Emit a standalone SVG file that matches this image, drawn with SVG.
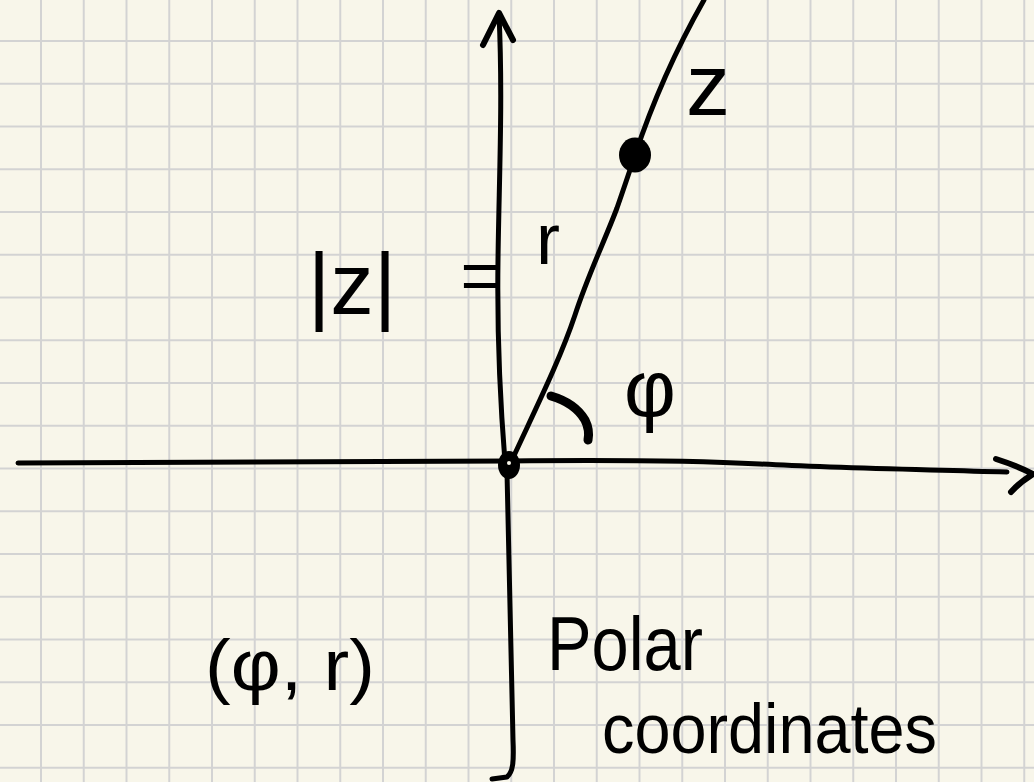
<svg xmlns="http://www.w3.org/2000/svg" width="1034" height="782" viewBox="0 0 1034 782">
  <style>
    .grid { stroke: #d3d3d3; stroke-width: 2; fill: none; }
    .ink { stroke: #000; fill: none; stroke-linecap: round; stroke-linejoin: round; }
    .axis { stroke-width: 5; }
    .lbl { font-family: "Liberation Sans", "DejaVu Sans", sans-serif; fill: #000; }
  </style>
  <rect width="1034" height="782" fill="#f8f6ea"/>
  <g id="grid">
    <path class="grid" d="M41,0V782M83.75,0V782M126.5,0V782M169.25,0V782M212,0V782M254.75,0V782M297.5,0V782M340.25,0V782M383,0V782M425.75,0V782M468.5,0V782M511.25,0V782M554,0V782M596.75,0V782M639.5,0V782M682.25,0V782M725,0V782M767.75,0V782M810.5,0V782M853.25,0V782M896,0V782M938.75,0V782M981.5,0V782M1024.25,0V782"/>
    <path class="grid" d="M0,41H1034M0,83.75H1034M0,126.5H1034M0,169.25H1034M0,212H1034M0,254.75H1034M0,297.5H1034M0,340.25H1034M0,383H1034M0,425.75H1034M0,468.5H1034M0,511.25H1034M0,554H1034M0,596.75H1034M0,639.5H1034M0,682.25H1034M0,725H1034M0,767.75H1034"/>
  </g>
  <g id="connectors">
    <path id="y-axis-up" class="ink axis" d="M505,462 C500,400 497,330 498,260 C499,180 503,100 499,14"/>
    <path id="y-axis-arrow" class="ink" stroke-width="6" d="M483,45 L499,13 L513,40"/>
    <path id="y-axis-down" class="ink axis" d="M507,472 C509,580 511,680 513,740 C514,762 513,772 507,777 L492,779"/>
    <path id="x-axis" class="ink axis" d="M18,463 C150,462 350,462 509,461 C600,460 680,460 760,464 C830,468 900,469 1007,472"/>
    <path id="x-axis-arrow" class="ink" stroke-width="6" d="M996,459 Q1015,465 1033,474 Q1020,482 1011,492"/>
    <path id="ray" class="ink axis" d="M512,460 C535,410 560,360 575,315 C588,275 605,240 617,208 C625,185 630,170 635,155 C650,110 670,60 704,0"/>
  </g>
  <g id="origin">
    <ellipse cx="509" cy="465" rx="11" ry="14" fill="#000"/>
    <circle cx="509" cy="463" r="2" fill="#f8f6ea"/>
  </g>
  <g id="point-z">
    <ellipse cx="635" cy="155" rx="16" ry="17.5" fill="#000"/>
  </g>
  <g id="angle">
    <path class="ink" stroke-width="9" d="M551,396 Q575,403 585,420 Q590,430 588,440"/>
  </g>
  <g id="label-abs-z"><text class="lbl" x="352" y="314" font-size="87" text-anchor="middle">|z|</text></g>
  <g id="label-eq"><text class="lbl" x="481" y="300" font-size="70" text-anchor="middle">=</text></g>
  <g id="label-r"><text class="lbl" x="548" y="264" font-size="72" text-anchor="middle">r</text></g>
  <g id="label-z"><text class="lbl" x="708" y="115" font-size="88" text-anchor="middle">z</text></g>
  <g id="label-phi"><text class="lbl" x="650" y="416" font-size="80" text-anchor="middle">φ</text></g>
  <g id="label-pair"><text class="lbl" x="205" y="690" font-size="72" textLength="170" lengthAdjust="spacingAndGlyphs">(φ, r)</text></g>
  <g id="label-polar">
    <text class="lbl" x="547" y="670" font-size="76" textLength="156" lengthAdjust="spacingAndGlyphs">Polar</text>
    <text class="lbl" x="602" y="753" font-size="70" textLength="335" lengthAdjust="spacingAndGlyphs">coordinates</text>
  </g>
</svg>
